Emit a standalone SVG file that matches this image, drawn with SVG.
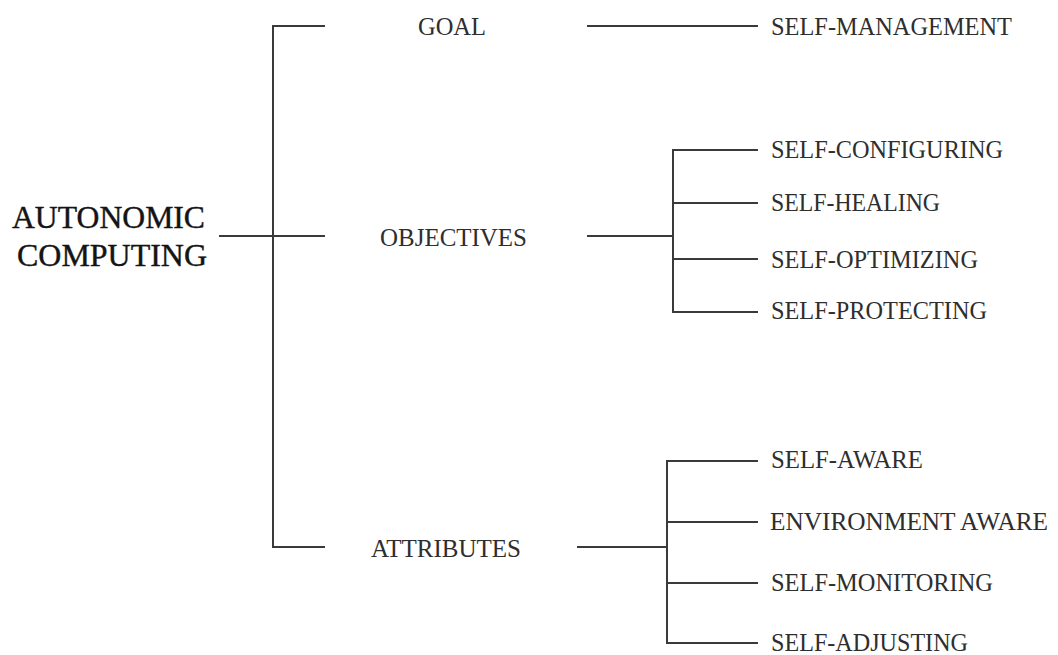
<svg xmlns="http://www.w3.org/2000/svg" width="1058" height="655" viewBox="0 0 1058 655">
  <style>
    .bg { fill: #ffffff; }
    .wire { stroke: #3a3a3a; stroke-width: 2; fill: none; stroke-linecap: square; }
    .lbl { font-family: "Liberation Serif", "Times New Roman", serif; font-size: 25px; fill: #2e2e2e; }
    .root { font-family: "Liberation Serif", "Times New Roman", serif; font-size: 31px; fill: #141414; stroke: #141414; stroke-width: 0.4px; }
  </style>
  <rect class="bg" x="0" y="0" width="1058" height="655"/>

  <!-- connectors -->
  <g id="connectors">
    <!-- root trunk -->
    <path class="wire" d="M220 236 H324"/>
    <path class="wire" d="M273 26 V547"/>
    <path class="wire" d="M273 26 H324"/>
    <path class="wire" d="M273 547 H324"/>
    <!-- goal branch -->
    <path class="wire" d="M588 26 H757"/>
    <!-- objectives branch -->
    <path class="wire" d="M588 236 H673"/>
    <path class="wire" d="M673 150 V312"/>
    <path class="wire" d="M673 150 H757"/>
    <path class="wire" d="M673 203 H757"/>
    <path class="wire" d="M673 259 H757"/>
    <path class="wire" d="M673 312 H757"/>
    <!-- attributes branch -->
    <path class="wire" d="M578 547 H667"/>
    <path class="wire" d="M667 461 V643"/>
    <path class="wire" d="M667 461 H757"/>
    <path class="wire" d="M667 522 H757"/>
    <path class="wire" d="M667 583 H757"/>
    <path class="wire" d="M667 643 H757"/>
  </g>

  <!-- root node -->
  <g id="node-autonomic-computing">
    <text class="root" x="12" y="228" textLength="193" lengthAdjust="spacingAndGlyphs">AUTONOMIC</text>
    <text class="root" x="17" y="266" textLength="190" lengthAdjust="spacingAndGlyphs">COMPUTING</text>
  </g>

  <!-- second level -->
  <g id="node-goal">
    <text class="lbl" x="418" y="35" textLength="68" lengthAdjust="spacingAndGlyphs">GOAL</text>
  </g>
  <g id="node-objectives">
    <text class="lbl" x="380" y="246" textLength="147" lengthAdjust="spacingAndGlyphs">OBJECTIVES</text>
  </g>
  <g id="node-attributes">
    <text class="lbl" x="371" y="557" textLength="150" lengthAdjust="spacingAndGlyphs">ATTRIBUTES</text>
  </g>

  <!-- leaves -->
  <g id="node-self-management">
    <text class="lbl" x="771" y="35" textLength="241" lengthAdjust="spacingAndGlyphs">SELF-MANAGEMENT</text>
  </g>
  <g id="node-self-configuring">
    <text class="lbl" x="771" y="158" textLength="232" lengthAdjust="spacingAndGlyphs">SELF-CONFIGURING</text>
  </g>
  <g id="node-self-healing">
    <text class="lbl" x="771" y="211" textLength="169" lengthAdjust="spacingAndGlyphs">SELF-HEALING</text>
  </g>
  <g id="node-self-optimizing">
    <text class="lbl" x="771" y="268" textLength="207" lengthAdjust="spacingAndGlyphs">SELF-OPTIMIZING</text>
  </g>
  <g id="node-self-protecting">
    <text class="lbl" x="771" y="319" textLength="216" lengthAdjust="spacingAndGlyphs">SELF-PROTECTING</text>
  </g>
  <g id="node-self-aware">
    <text class="lbl" x="771" y="468" textLength="152" lengthAdjust="spacingAndGlyphs">SELF-AWARE</text>
  </g>
  <g id="node-environment-aware">
    <text class="lbl" x="770" y="530" textLength="278" lengthAdjust="spacingAndGlyphs">ENVIRONMENT AWARE</text>
  </g>
  <g id="node-self-monitoring">
    <text class="lbl" x="771" y="591" textLength="222" lengthAdjust="spacingAndGlyphs">SELF-MONITORING</text>
  </g>
  <g id="node-self-adjusting">
    <text class="lbl" x="771" y="651" textLength="197" lengthAdjust="spacingAndGlyphs">SELF-ADJUSTING</text>
  </g>
</svg>
